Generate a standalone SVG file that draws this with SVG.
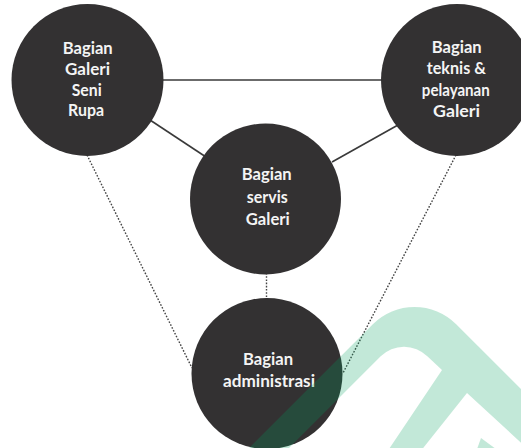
<svg xmlns="http://www.w3.org/2000/svg" width="521" height="448" viewBox="0 0 521 448">
<style>
.node circle{fill:#333132}
.node text{fill:#f4f4f4;font-family:Lato,"Open Sans",sans-serif;font-weight:700;font-size:17px;text-anchor:middle}
.solid{stroke:#3a3a3a;stroke-width:1.6;fill:none}
.dot{stroke:#444;stroke-width:1.4;stroke-dasharray:1.6 1.6;fill:none}
</style>
<rect width="521" height="448" fill="#ffffff"/>
<g id="connectors">
<line class="solid" x1="160" y1="80" x2="384" y2="80"/>
<line class="solid" x1="150" y1="120" x2="206" y2="157"/>
<line class="solid" x1="398" y1="125" x2="332" y2="162"/>
<line class="dot" x1="87" y1="155" x2="192" y2="368"/>
<line class="dot" x1="456" y1="155" x2="343" y2="373"/>
<line class="dot" x1="266.5" y1="273" x2="266.5" y2="299"/>
</g>
<g id="node-galeri-seni-rupa" class="node">
<circle cx="87.5" cy="80" r="76"/>
<text x="87.7" y="54" textLength="50" lengthAdjust="spacingAndGlyphs">Bagian</text>
<text x="87.5" y="74.8" textLength="45" lengthAdjust="spacingAndGlyphs">Galeri</text>
<text x="86.7" y="95.6" textLength="30" lengthAdjust="spacingAndGlyphs">Seni</text>
<text x="86" y="116.4" textLength="36" lengthAdjust="spacingAndGlyphs">Rupa</text>
</g>
<g id="node-teknis" class="node">
<circle cx="457" cy="80" r="76"/>
<text x="456.7" y="53" textLength="50" lengthAdjust="spacingAndGlyphs">Bagian</text>
<text x="456.3" y="74.3" textLength="59" lengthAdjust="spacingAndGlyphs">teknis &amp;</text>
<text x="455.8" y="95.6" textLength="68" lengthAdjust="spacingAndGlyphs">pelayanan</text>
<text x="456.5" y="117" textLength="47" lengthAdjust="spacingAndGlyphs">Galeri</text>
</g>
<g id="node-servis" class="node">
<circle cx="265.5" cy="199" r="75.5"/>
<text x="266.7" y="180" textLength="50" lengthAdjust="spacingAndGlyphs">Bagian</text>
<text x="267.3" y="202.5" textLength="41" lengthAdjust="spacingAndGlyphs">servis</text>
<text x="267.8" y="225" textLength="44" lengthAdjust="spacingAndGlyphs">Galeri</text>
</g>
<g id="node-administrasi" class="node">
<circle cx="267" cy="373.5" r="75.5"/>
<text x="268" y="365" textLength="50" lengthAdjust="spacingAndGlyphs">Bagian</text>
<text x="269" y="386.7" textLength="92" lengthAdjust="spacingAndGlyphs">administrasi</text>
</g>
<g id="watermark" fill="rgb(0,160,90)" fill-opacity="0.24">
<path d="M245,452 L372.8,324.2 A59 59 0 0 1 456.2,324.2 L530,398 L530,451 L467,393 L420,452 L387,452 L442,370 L427.3,356.3 A33 33 0 0 0 380.7,356.3 L285,452 Z"/>
<path d="M476,452 L481,438 L500,452 Z"/>
</g>
</svg>
